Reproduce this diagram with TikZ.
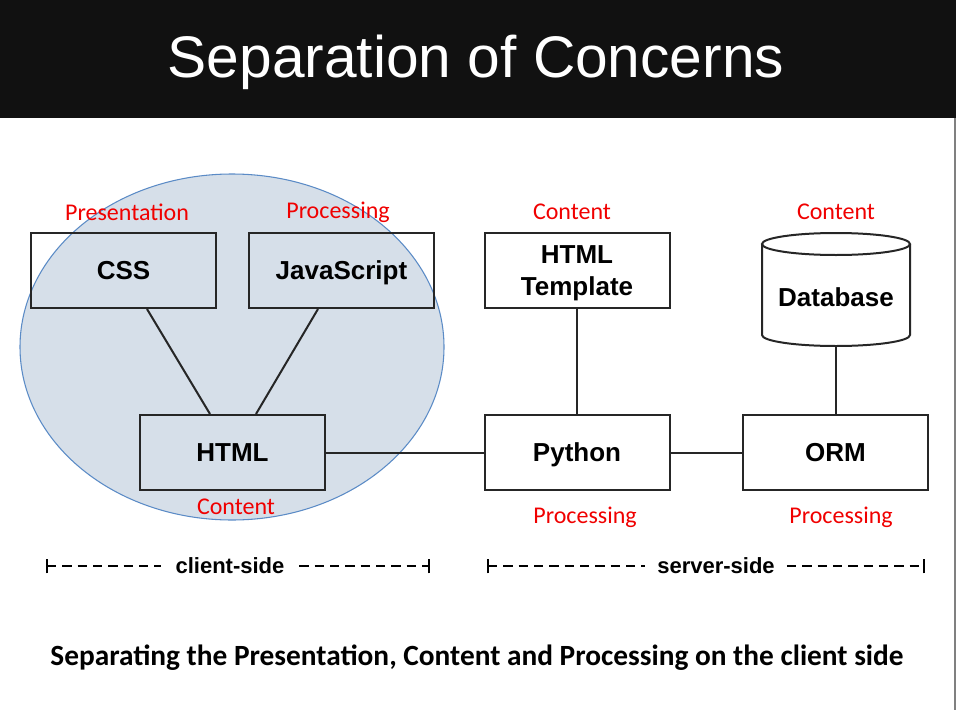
\documentclass[tikz,border=0pt]{standalone}
\usepackage{fontspec}
\setmainfont{Liberation Sans}
\newfontfamily\calib{Carlito}
\usetikzlibrary{shapes.geometric}
\definecolor{barblack}{HTML}{111111}
\definecolor{zonefill}{HTML}{D6DFE9}
\definecolor{zoneline}{HTML}{5B8BC6}
\definecolor{tagred}{HTML}{F00000}
\tikzset{
  box/.style={draw=black!85, line width=1.5pt, minimum width=138.75pt, minimum height=56.25pt,
              inner sep=0pt, font=\fontsize{19.5}{24}\selectfont\bfseries, align=center,
              text height=14pt, text depth=0pt},
  tag/.style={text=tagred, font=\calib\fontsize{18}{20}\selectfont, inner sep=0pt},
  link/.style={draw=black!85, line width=1.5pt},
  span/.style={line width=1pt, dash pattern=on 7pt off 4.5pt},
  spanlabel/.style={font=\fontsize{16.5}{18}\selectfont\bfseries, inner sep=0pt}
}
\begin{document}
\begin{tikzpicture}[x=0.75pt, y=-0.75pt]
  \useasboundingbox (0,0) rectangle (956,710);
  % title bar
  \fill[barblack] (0,0) rectangle (956,118);
  \node (title) at (476,62) [text=white, font=\fontsize{44}{50}\selectfont] {Separation of Concerns};
  % slide edge
  \draw[gray, line width=1pt] (955,118) -- (955,710);

  % client-side grouping
  \node (zone) at (232,347) [ellipse, fill=zonefill, draw=zoneline, line width=0.8pt,
        minimum width=318pt, minimum height=259.5pt] {};

  % boxes
  \node[box] (css) at (123.5,270.5) {CSS};
  \node[box] (js) at (341.5,270.5) {JavaScript};
  \node[box] (html) at (232.5,452.5) {HTML};
  \node[box, text height=38pt] (tpl) at (577,270.5) {HTML\\Template};
  \node[box] (py) at (577,452.5) {Python};
  \node[box] (orm) at (835.5,452.5) {ORM};

  % database drum
  \node (db) at (836,289.5) [minimum width=111pt, minimum height=84.75pt, inner sep=0pt] {};
  \draw[draw=black!85, line width=1.5pt]
    (762,244) -- (762,335) arc[start angle=180, end angle=0, x radius=74, y radius=11]
    -- (910,244);
  \draw[draw=black!85, line width=1.5pt] (836,244) ellipse[x radius=74, y radius=11];
  \node (dbtext) at (836,297) [font=\fontsize{19.5}{22}\selectfont\bfseries] {Database};

  % connectors
  \draw[link] (css.south -| 147,0) -- (html.north -| 210,0);
  \draw[link] (js.south -| 318,0) -- (html.north -| 256,0);
  \draw[link] (html.east) -- (py.west);
  \draw[link] (tpl.south) -- (py.north);
  \draw[link] (py.east) -- (orm.west);
  \draw[link] (db.south) -- (orm.north -| db.south);

  % role tags
  \node[tag] (t1) at (127,212) {Presentation};
  \node[tag] (t2) at (338,212) {Processing};
  \node[tag] (t3) at (572,212) {Content};
  \node[tag] (t4) at (836,212) {Content};
  \node[tag] (t5) at (236,507) {Content};
  \node[tag] (t6) at (585,517) {Processing};
  \node[tag] (t7) at (841,517) {Processing};

  % client-side / server-side spans
  \coordinate (cl) at (47,566);
  \coordinate (cr) at (429,566);
  \node[spanlabel] (client) at (230,566) {client-side};
  \draw[span] (cl) -- ([xshift=-11pt]client.west);
  \draw[span] ([xshift=11pt]client.east) -- (cr);
  \draw[line width=1pt] ([yshift=-5.5pt]cl) -- ([yshift=5.5pt]cl);
  \draw[line width=1pt] ([yshift=-5.5pt]cr) -- ([yshift=5.5pt]cr);

  \coordinate (sl) at (488,566);
  \coordinate (sr) at (924,566);
  \node[spanlabel] (server) at (716,566) {server-side};
  \draw[span] (sl) -- ([xshift=-9pt]server.west);
  \draw[span] ([xshift=9pt]server.east) -- (sr);
  \draw[line width=1pt] ([yshift=-5.5pt]sl) -- ([yshift=5.5pt]sl);
  \draw[line width=1pt] ([yshift=-5.5pt]sr) -- ([yshift=5.5pt]sr);

  % caption
  \node (caption) at (477,658) [font=\calib\bfseries\fontsize{22}{26}\selectfont] {Separating the Presentation, Content and Processing on the client side};
\end{tikzpicture}
\end{document}
